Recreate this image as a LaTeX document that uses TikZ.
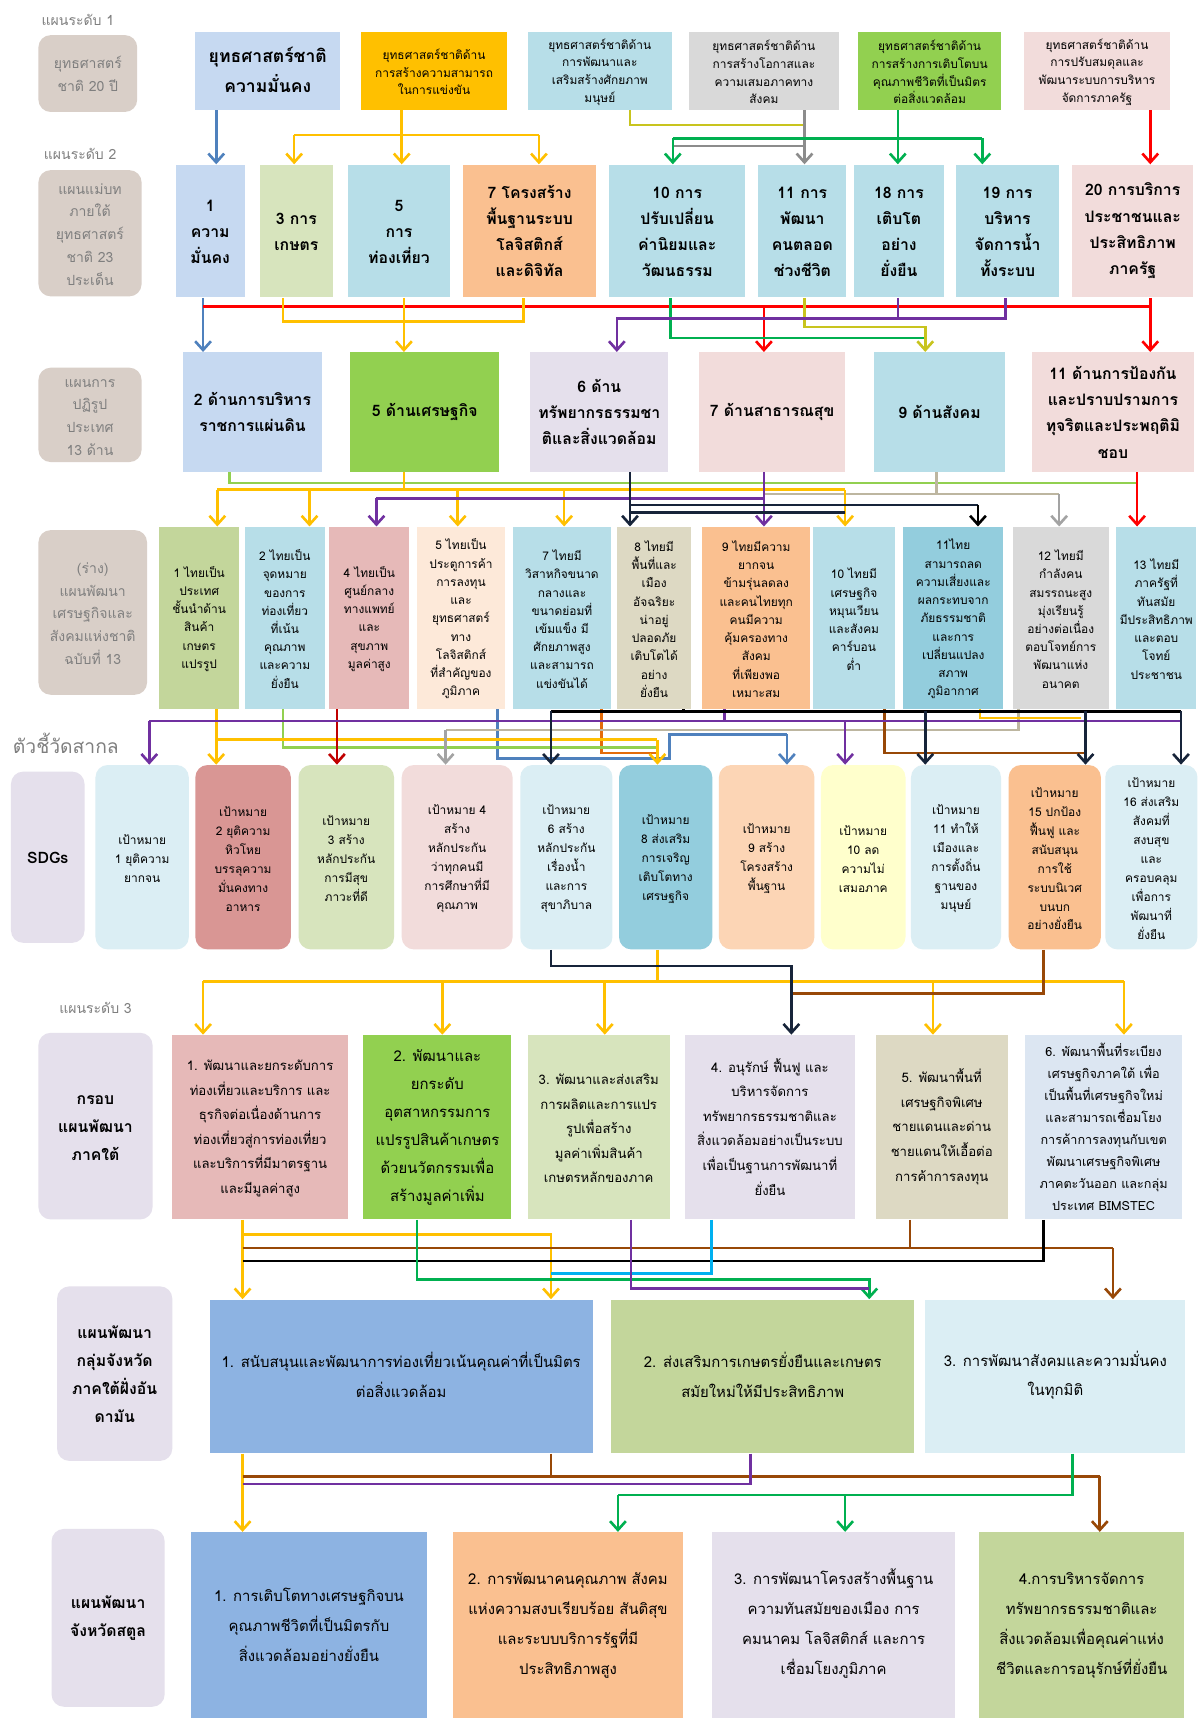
\documentclass[tikz,border=0pt]{standalone}
\usepackage{fontspec}
\setmainfont{Loma}[Script=Thai]
\usetikzlibrary{fit,arrows.meta}
\definecolor{cside}{HTML}{D9CFC8}
\definecolor{csidetxt}{HTML}{7F7F7F}
\definecolor{clav}{HTML}{E5E0EC}
\definecolor{cbluelt}{HTML}{C6D9F1}
\definecolor{cgold}{HTML}{FFC000}
\definecolor{caqua}{HTML}{B7DEE8}
\definecolor{cgraybox}{HTML}{D9D9D9}
\definecolor{cgreen}{HTML}{92D050}
\definecolor{cpink}{HTML}{F2DCDB}
\definecolor{csage}{HTML}{D7E4BD}
\definecolor{corange}{HTML}{FAC090}
\definecolor{colive}{HTML}{C3D69B}
\definecolor{crose}{HTML}{E6B9B8}
\definecolor{cpeach}{HTML}{FDE9D9}
\definecolor{cbeige}{HTML}{DDD9C3}
\definecolor{cteal}{HTML}{93CDDD}
\definecolor{cice}{HTML}{DBEEF4}
\definecolor{cbrick}{HTML}{D99694}
\definecolor{capricot}{HTML}{FCD5B5}
\definecolor{clemon}{HTML}{FFFFCC}
\definecolor{csteel}{HTML}{DCE6F2}
\definecolor{cmid}{HTML}{8DB3E2}
\definecolor{lblue}{HTML}{4F81BD}
\definecolor{lolive}{HTML}{C8C41E}
\definecolor{lgray}{HTML}{8C8C8C}
\definecolor{lgreen}{HTML}{00B050}
\definecolor{lred}{HTML}{FF0000}
\definecolor{ldred}{HTML}{C00000}
\definecolor{lpurple}{HTML}{7030A0}
\definecolor{lnavy}{HTML}{17243A}
\definecolor{ltan}{HTML}{BDB6A0}
\definecolor{lorange}{HTML}{E46C0A}
\definecolor{lbrown}{HTML}{984807}
\definecolor{lcyan}{HTML}{00B0F0}
% empty first row, to sit the Thai text lower in its box
\def\lift{0pt}
\newcommand{\lf}{\\[\lift]}
\tikzset{
  box/.style={inner sep=0pt, align=center, text=black},
  side/.style={box, rounded corners=7pt, fill=cside, text=csidetxt, font={\fontsize{8}{13}\selectfont\def\lift{-5.6pt}}},
  sideb/.style={box, rounded corners=7pt, fill=clav, font={\bfseries\fontsize{9}{16}\selectfont\def\lift{-8.6pt}}},
  lvl/.style={text=csidetxt, font=\fontsize{8}{10}\selectfont},
  top/.style={box, font={\fontsize{6.8}{10}\selectfont\def\lift{-2.6pt}}},
  plan/.style={box, font={\bfseries\fontsize{9}{15}\selectfont\def\lift{-7.6pt}}},
  reform/.style={box, font={\bfseries\fontsize{9}{15}\selectfont\def\lift{-7.6pt}}},
  nesdp/.style={box, font={\fontsize{6.8}{10.4}\selectfont\def\lift{-3pt}}},
  sdg/.style={box, rounded corners=7pt, font={\fontsize{6.8}{10.8}\selectfont\def\lift{-3.4pt}}},
  region/.style={box, font={\fontsize{7.5}{14}\selectfont\def\lift{-6.6pt}}},
  group/.style={box, font={\fontsize{8.5}{17}\selectfont\def\lift{-9.6pt}}},
  wire/.style={line width=1.5pt},
  arr/.style={wire, -{Straight Barb[length=5pt,width=9pt]}}
}
\begin{document}
\begin{tikzpicture}[x=0.022cm, y=-0.022cm]
\useasboundingbox (0,0) rectangle (1093,1568);
\fill[white] (0,0) rectangle (1093,1568);
% level 1
\node[lvl] (lv1) at (71,18) {แผนระดับ 1};
\node[side, fit={(35,32) (125,102)}] (sd1) {\lf ยุทธศาสตร์\\ชาติ 20 ปี};
\node[box, fill=cbluelt, font={\bfseries\fontsize{10}{17}\selectfont\def\lift{-9.6pt}}, fit={(178,29) (310,100)}] (b1) {\lf ยุทธศาสตร์ชาติ\\ความมั่นคง};
\node[top, fill=cgold, fit={(329,29) (462,100)}] (b2) {\lf ยุทธศาสตร์ชาติด้าน\\การสร้างความสามารถ\\ในการแข่งขัน};
\node[top, fill=caqua, fit={(481,29) (612,100)}] (b3) {\lf ยุทธศาสตร์ชาติด้าน\\การพัฒนาและ\\เสริมสร้างศักยภาพ\\มนุษย์};
\node[top, fill=cgraybox, fit={(628,29) (764,100)}] (b4) {\lf ยุทธศาสตร์ชาติด้าน\\การสร้างโอกาสและ\\ความเสมอภาคทาง\\สังคม};
\node[top, fill=cgreen, fit={(782,29) (912,100)}] (b5) {\lf ยุทธศาสตร์ชาติด้าน\\การสร้างการเติบโตบน\\คุณภาพชีวิตที่เป็นมิตร\\ต่อสิ่งแวดล้อม};
\node[top, fill=cpink, fit={(933,29) (1066,100)}] (b6) {\lf ยุทธศาสตร์ชาติด้าน\\การปรับสมดุลและ\\พัฒนาระบบการบริหาร\\จัดการภาครัฐ};
% level 2
\node[lvl] (lv2) at (73,140) {แผนระดับ 2};
\node[side, fit={(35,155) (129,270)}] (sd2) {\lf แผนแม่บท\\ภายใต้\\ยุทธศาสตร์\\ชาติ 23\\ประเด็น};
\node[plan, fill=cbluelt, fit={(160,150) (223,271)}] (l1) {\lf 1\\ความ\\มั่นคง};
\node[plan, fill=csage, fit={(237,150) (303,271)}] (l3) {\lf 3 การ\\เกษตร};
\node[plan, fill=caqua, fit={(317,150) (410,271)}] (l5) {\lf 5\\การ\\ท่องเที่ยว};
\node[plan, fill=corange, fit={(422,150) (543,271)}] (l7) {\lf 7 โครงสร้าง\\พื้นฐานระบบ\\โลจิสติกส์\\และดิจิทัล};
\node[plan, fill=caqua, fit={(555,150) (679,271)}] (l10) {\lf 10 การ\\ปรับเปลี่ยน\\ค่านิยมและ\\วัฒนธรรม};
\node[plan, fill=caqua, fit={(691,150) (771,271)}] (l11) {\lf 11 การ\\พัฒนา\\คนตลอด\\ช่วงชีวิต};
\node[plan, fill=caqua, fit={(778,150) (860,271)}] (l18) {\lf 18 การ\\เติบโต\\อย่าง\\ยั่งยืน};
\node[plan, fill=caqua, fit={(871,150) (965,271)}] (l19) {\lf 19 การ\\บริหาร\\จัดการน้ำ\\ทั้งระบบ};
\node[plan, fill=cpink, fit={(977,150) (1087,271)}] (l20) {\lf 20 การบริการ\\ประชาชนและ\\ประสิทธิภาพ\\ภาครัฐ};
% reform
\node[side, fit={(35,335) (129,421)}] (sd3) {\lf แผนการ\\ปฏิรูป\\ประเทศ\\13 ด้าน};
\node[reform, fill=cbluelt, fit={(167,321) (293,430)}] (r2) {\lf 2 ด้านการบริหาร\\ราชการแผ่นดิน};
\node[reform, fill=cgreen, fit={(319,321) (455,430)}] (r5) {\lf 5 ด้านเศรษฐกิจ};
\node[reform, fill=clav, fit={(483,321) (609,430)}] (r6) {\lf 6 ด้าน\\ทรัพยากรธรรมชา\\ติและสิ่งแวดล้อม};
\node[reform, fill=cpink, fit={(637,321) (770,430)}] (r7) {\lf 7 ด้านสาธารณสุข};
\node[reform, fill=caqua, fit={(796,321) (916,430)}] (r9) {\lf 9 ด้านสังคม};
\node[reform, fill=cpink, fit={(940,321) (1088,430)}] (r11) {\lf 11 ด้านการป้องกัน\\และปราบปรามการ\\ทุจริตและประพฤติมิ\\ชอบ};
% nesdp 13
\node[side, fit={(35,483) (134,633)}] (sd4) {\lf (ร่าง)\\แผนพัฒนา\\เศรษฐกิจและ\\สังคมแห่งชาติ\\ฉบับที่ 13};
\node[nesdp, fill=colive, fit={(145,480) (218,646)}] (n1) {\lf 1 ไทยเป็น\\ประเทศ\\ชั้นนำด้าน\\สินค้า\\เกษตร\\แปรรูป};
\node[nesdp, fill=caqua, fit={(223,480) (296,646)}] (n2) {\lf 2 ไทยเป็น\\จุดหมาย\\ของการ\\ท่องเที่ยว\\ที่เน้น\\คุณภาพ\\และความ\\ยั่งยืน};
\node[nesdp, fill=crose, fit={(300,480) (373,646)}] (n4) {\lf 4 ไทยเป็น\\ศูนย์กลาง\\ทางแพทย์\\และ\\สุขภาพ\\มูลค่าสูง};
\node[nesdp, fill=cpeach, fit={(380,480) (460,646)}] (n5) {\lf 5 ไทยเป็น\\ประตูการค้า\\การลงทุน\\และ\\ยุทธศาสตร์\\ทาง\\โลจิสติกส์\\ที่สำคัญของ\\ภูมิภาค};
\node[nesdp, fill=caqua, fit={(467,480) (557,646)}] (n7) {\lf 7 ไทยมี\\วิสาหกิจขนาด\\กลางและ\\ขนาดย่อมที่\\เข้มแข็ง มี\\ศักยภาพสูง\\และสามารถ\\แข่งขันได้};
\node[nesdp, fill=cbeige, fit={(562,480) (630,646)}] (n8) {\lf 8 ไทยมี\\พื้นที่และ\\เมือง\\อัจฉริยะ\\น่าอยู่\\ปลอดภัย\\เติบโตได้\\อย่าง\\ยั่งยืน};
\node[nesdp, fill=corange, fit={(640,480) (738,646)}] (n9) {\lf 9 ไทยมีความ\\ยากจน\\ข้ามรุ่นลดลง\\และคนไทยทุก\\คนมีความ\\คุ้มครองทาง\\สังคม\\ที่เพียงพอ\\เหมาะสม};
\node[nesdp, fill=caqua, fit={(741,480) (815,646)}] (n10) {\lf 10 ไทยมี\\เศรษฐกิจ\\หมุนเวียน\\และสังคม\\คาร์บอน\\ต่ำ};
\node[nesdp, fill=cteal, fit={(823,480) (914,646)}] (n11) {\lf 11ไทย\\สามารถลด\\ความเสี่ยงและ\\ผลกระทบจาก\\ภัยธรรมชาติ\\และการ\\เปลี่ยนแปลง\\สภาพ\\ภูมิอากาศ};
\node[nesdp, fill=cgraybox, fit={(923,480) (1010,646)}] (n12) {\lf 12 ไทยมี\\กำลังคน\\สมรรถนะสูง\\มุ่งเรียนรู้\\อย่างต่อเนื่อง\\ตอบโจทย์การ\\พัฒนาแห่ง\\อนาคต};
\node[nesdp, fill=caqua, fit={(1017,480) (1090,646)}] (n13) {\lf 13 ไทยมี\\ภาครัฐที่\\ทันสมัย\\มีประสิทธิภาพ\\และตอบ\\โจทย์\\ประชาชน};
% SDGs
\node[text=csidetxt, font=\fontsize{11}{13}\selectfont] (lvs) at (60,677) {ตัวชี้วัดสากล};
\node[sideb, fit={(10,703) (77,859)}] (sds) {\lf SDGs};
\node[sdg, fill=cice, fit={(87,697) (172,865)}] (s1) {\lf เป้าหมาย\\1 ยุติความ\\ยากจน};
\node[sdg, fill=cbrick, fit={(178,697) (265,865)}] (s2) {\lf เป้าหมาย\\2 ยุติความ\\หิวโหย\\บรรลุความ\\มั่นคงทาง\\อาหาร};
\node[sdg, fill=csage, fit={(272,697) (359,865)}] (s3) {\lf เป้าหมาย\\3 สร้าง\\หลักประกัน\\การมีสุข\\ภาวะที่ดี};
\node[sdg, fill=cpink, fit={(366,697) (467,865)}] (s4) {\lf เป้าหมาย 4\\สร้าง\\หลักประกัน\\ว่าทุกคนมี\\การศึกษาที่มี\\คุณภาพ};
\node[sdg, fill=cice, fit={(474,697) (558,865)}] (s6) {\lf เป้าหมาย\\6 สร้าง\\หลักประกัน\\เรื่องน้ำ\\และการ\\สุขาภิบาล};
\node[sdg, fill=cteal, fit={(564,697) (649,865)}] (s8) {\lf เป้าหมาย\\8 ส่งเสริม\\การเจริญ\\เติบโตทาง\\เศรษฐกิจ};
\node[sdg, fill=capricot, fit={(655,697) (742,865)}] (s9) {\lf เป้าหมาย\\9 สร้าง\\โครงสร้าง\\พื้นฐาน};
\node[sdg, fill=clemon, fit={(748,697) (825,865)}] (s10) {\lf เป้าหมาย\\10 ลด\\ความไม่\\เสมอภาค};
\node[sdg, fill=cice, fit={(830,697) (912,865)}] (s11) {\lf เป้าหมาย\\11 ทำให้\\เมืองและ\\การตั้งถิ่น\\ฐานของ\\มนุษย์};
\node[sdg, fill=corange, fit={(919,697) (1003,865)}] (s15) {\lf เป้าหมาย\\15 ปกป้อง\\ฟื้นฟู และ\\สนับสนุน\\การใช้\\ระบบนิเวศ\\บนบก\\อย่างยั่งยืน};
\node[sdg, fill=cice, fit={(1007,697) (1091,865)}] (s16) {\lf เป้าหมาย\\16 ส่งเสริม\\สังคมที่\\สงบสุข\\และ\\ครอบคลุม\\เพื่อการ\\พัฒนาที่\\ยั่งยืน};
% level 3
\node[lvl] (lv3) at (87,918) {แผนระดับ 3};
\node[sideb, fit={(35,941) (139,1111)}] (sd6) {\lf กรอบ\\แผนพัฒนา\\ภาคใต้};
\node[region, fill=crose, fit={(157,943) (317,1111)}] (t1) {\lf 1. พัฒนาและยกระดับการ\\ท่องเที่ยวและบริการ และ\\ธุรกิจต่อเนื่องด้านการ\\ท่องเที่ยวสู่การท่องเที่ยว\\และบริการที่มีมาตรฐาน\\และมีมูลค่าสูง};
\node[region, fill=cgreen, font={\fontsize{8.5}{16}\selectfont\def\lift{-8.6pt}}, fit={(331,943) (466,1111)}] (t2) {\lf 2. พัฒนาและ\\ยกระดับ\\อุตสาหกรรมการ\\แปรรูปสินค้าเกษตร\\ด้วยนวัตกรรมเพื่อ\\สร้างมูลค่าเพิ่ม};
\node[region, fill=csage, fit={(481,943) (610,1111)}] (t3) {\lf 3. พัฒนาและส่งเสริม\\การผลิตและการแปร\\รูปเพื่อสร้าง\\มูลค่าเพิ่มสินค้า\\เกษตรหลักของภาค};
\node[region, fill=clav, fit={(624,943) (779,1111)}] (t4) {\lf 4. อนุรักษ์ ฟื้นฟู และ\\บริหารจัดการ\\ทรัพยากรธรรมชาติและ\\สิ่งแวดล้อมอย่างเป็นระบบ\\เพื่อเป็นฐานการพัฒนาที่\\ยั่งยืน};
\node[region, fill=cbeige, fit={(798,943) (918,1111)}] (t5) {\lf 5. พัฒนาพื้นที่\\เศรษฐกิจพิเศษ\\ชายแดนและด่าน\\ชายแดนให้เอื้อต่อ\\การค้าการลงทุน};
\node[region, fill=csteel, font={\fontsize{7.2}{12.5}\selectfont\def\lift{-5.1pt}}, fit={(934,943) (1077,1111)}] (t6) {\lf 6. พัฒนาพื้นที่ระเบียง\\เศรษฐกิจภาคใต้ เพื่อ\\เป็นพื้นที่เศรษฐกิจใหม่\\และสามารถเชื่อมโยง\\การค้าการลงทุนกับเขต\\พัฒนาเศรษฐกิจพิเศษ\\ภาคตะวันออก และกลุ่ม\\ประเทศ BIMSTEC};
% group of provinces
\node[sideb, fit={(52,1172) (157,1331)}] (sd7) {\lf แผนพัฒนา\\กลุ่มจังหวัด\\ภาคใต้ฝั่งอัน\\ดามัน};
\node[group, fill=cmid, fit={(191,1184) (540,1324)}] (g1) {\lf 1. สนับสนุนและพัฒนาการท่องเที่ยวเน้นคุณค่าที่เป็นมิตร\\ต่อสิ่งแวดล้อม};
\node[group, fill=colive, fit={(557,1184) (833,1324)}] (g2) {\lf 2. ส่งเสริมการเกษตรยั่งยืนและเกษตร\\สมัยใหม่ให้มีประสิทธิภาพ};
\node[group, fill=cice, fit={(843,1184) (1080,1324)}] (g3) {\lf 3. การพัฒนาสังคมและความมั่นคง\\ในทุกมิติ};
% province
\node[sideb, fit={(47,1393) (150,1555)}] (sd8) {\lf แผนพัฒนา\\จังหวัดสตูล};
\node[group, fill=cmid, fit={(174,1396) (389,1565)}] (p1) {\lf 1. การเติบโตทางเศรษฐกิจบน\\คุณภาพชีวิตที่เป็นมิตรกับ\\สิ่งแวดล้อมอย่างยั่งยืน};
\node[group, fill=corange, fit={(413,1396) (622,1565)}] (p2) {\lf 2. การพัฒนาคนคุณภาพ สังคม\\แห่งความสงบเรียบร้อย สันติสุข\\และระบบบริการรัฐที่มี\\ประสิทธิภาพสูง};
\node[group, fill=clav, fit={(649,1396) (870,1565)}] (p3) {\lf 3. การพัฒนาโครงสร้างพื้นฐาน\\ความทันสมัยของเมือง การ\\คมนาคม โลจิสติกส์ และการ\\เชื่อมโยงภูมิภาค};
\node[group, fill=colive, fit={(892,1396) (1079,1565)}] (p4) {\lf 4.การบริหารจัดการ\\ทรัพยากรธรรมชาติและ\\สิ่งแวดล้อมเพื่อคุณค่าแห่ง\\ชีวิตและการอนุรักษ์ที่ยั่งยืน};
% level 1 -> level 2
\draw[arr, lblue] (b1.south -| 197,0) -- (l1.north -| 197,0);
\draw[wire, cgold] (b2.south -| 366,0) -- (366,123) (268,123) -- (491,123);
\foreach \x/\n in {268/l3,366/l5,491/l7}{\draw[arr, cgold] (\x,123) -- (\n.north -| \x,0);}
\draw[wire, lolive] (b3.south -| 574,0) |- (733,114);
\draw[wire, lgray] (613,133) -- (733,133);
\draw[arr, lgray] (b4.south -| 733,0) -- (l11.north -| 733,0);
\draw[wire, lgreen] (b5.south -| 818,0) -- (818,126) (613,126) -- (895,126);
\foreach \x/\n in {613/l10,818/l18,895/l19}{\draw[arr, lgreen] (\x,126) -- (\n.north -| \x,0);}
\draw[arr, lred] (b6.south -| 1048,0) -- (l20.north -| 1048,0);
% level 2 -> reform
\draw[arr, lblue] (l1.south -| 185,0) -- (r2.north -| 185,0);
\draw[wire, lred] (185,279) -- (1048,279);
\draw[arr, lred] (l20.south -| 1048,0) -- (r11.north -| 1048,0);
\draw[arr, lred] (696,279) -- (r7.north -| 696,0);
\draw[wire, cgold] (l3.south -| 258,0) |- (477,293) -- (l7.south -| 477,0);
\draw[arr, cgold] (l5.south -| 368,0) -- (r5.north -| 368,0);
\draw[wire, lgreen] (l10.south -| 611,0) |- (843,308);
\draw[arr, lolive] (l11.south -| 733,0) |- (843,298) -- (r9.north -| 843,0);
\draw[wire, lpurple] (l18.south -| 818,0) -- (818,290);
\draw[arr, lpurple] (l19.south -| 916,0) |- (562,290) -- (r6.north -| 562,0);
% reform -> nesdp 13
\draw[wire, cgreen] (r2.south -| 209,0) |- (1036,440);
\draw[arr, lred] (r11.south -| 1036,0) -- (n13.north -| 1036,0);
\draw[wire, ltan] (r9.south -| 853,0) -- (853,450) (696,450) -- (965,450);
\draw[arr, lgray!80] (965,450) -- (n12.north -| 965,0);
\draw[wire, cgold] (r5.south -| 368,0) -- (368,446) (198,446) -- (770,446);
\foreach \x/\n in {198/n1,282/n2,417/n5,514/n7,770/n10}{\draw[arr, cgold] (\x,446) -- (\n.north -| \x,0);}
\draw[wire, lpurple] (343,454) -- (696,454);
\draw[arr, lpurple] (343,454) -- (n4.north -| 343,0);
\draw[arr, lpurple] (r7.south -| 696,0) -- (n9.north -| 696,0);
\draw[wire, lnavy] (574,460) -- (891,460) (574,467) -- (770,467);
\draw[arr, lnavy] (r6.south -| 574,0) -- (n8.north -| 574,0);
\draw[arr, black] (891,460) -- (n11.north -| 891,0);
% nesdp 13 -> SDGs
\draw[wire, lorange] (n7.south -| 548,0) |- (599,686);
\draw[wire, lblue] (n5.south -| 453,0) |- (610,691) -- (610,669) -- (717,669);
\draw[arr, lblue] (717,669) -- (s9.north -| 717,0);
\draw[wire, cgreen] (n2.south -| 258,0) |- (599,681);
\draw[arr, cgold] (n1.south -| 197,0) -- (s2.north -| 197,0);
\draw[wire, cgold] (197,674) -- (599,674);
\draw[arr, cgold] (599,674) -- (s8.north -| 599,0);
\draw[arr, ldred] (n4.south -| 307,0) -- (s3.north -| 307,0);
\draw[wire, ltan] (n12.south -| 928,0) |- (406,665);
\draw[arr, lgray!80] (406,665) -- (s4.north -| 406,0);
\draw[wire, lbrown] (n10.south -| 806,0) |- (989,686);
\draw[wire, cgold] (n11.south -| 893,0) |- (985,654);
\draw[wire, lpurple] (n9.south -| 660,0) -- (660,657) (136,657) -- (1076,657);
\foreach \x/\n in {136/s1,770/s10}{\draw[arr, lpurple] (\x,657) -- (\n.north -| \x,0);}
\draw[wire, black] (n8.south -| 623,0) -- (623,648) (502,648) -- (1076,648);
\foreach \x/\n in {502/s6,843/s11,989/s15,1076/s16}{\draw[arr, lnavy] (\x,648) -- (\n.north -| \x,0);}
% SDGs -> level 3
\draw[wire, cgold] (s8.south -| 599,0) -- (599,894) (185,894) -- (1024,894);
\foreach \x/\n in {185/t1,403/t2,551/t3,850/t5,1024/t6}{\draw[arr, cgold] (\x,894) -- (\n.north -| \x,0);}
\draw[wire, lbrown] (s15.south -| 951,0) |- (721,905);
\draw[arr, lnavy] (s6.south -| 502,0) |- (721,880) -- (t4.north -| 721,0);
% level 3 -> group
\draw[arr, cgold] (t1.south -| 221,0) -- (g1.north -| 221,0);
\draw[arr, cgold] (221,1125) -| (g1.north -| 502,0);
\draw[wire, lbrown] (t5.south -| 829,0) -- (829,1137) (221,1137) -- (1014,1137);
\draw[arr, lbrown] (1014,1137) -- (g3.north -| 1014,0);
\draw[wire, black] (t6.south -| 951,0) |- (221,1149);
\draw[wire, lcyan] (t4.south -| 648,0) |- (502,1160);
\draw[arr, lgreen] (t2.south -| 380,0) |- (792,1166) -- (g2.north -| 792,0);
\draw[wire, lpurple] (t3.south -| 575,0) |- (792,1174);
% group -> province
\draw[arr, cgold] (g1.south -| 221,0) -- (p1.north -| 221,0);
\draw[wire, lbrown] (g1.south -| 502,0) -- (502,1345) (221,1345) -- (1002,1345);
\draw[arr, lbrown] (1002,1345) -- (p4.north -| 1002,0);
\draw[wire, lpurple] (g2.south -| 684,0) |- (221,1352);
\draw[wire, lgreen] (g3.south -| 977,0) |- (563,1362);
\foreach \x/\n in {563/p2,770/p3}{\draw[arr, lgreen] (\x,1362) -- (\n.north -| \x,0);}
\end{tikzpicture}
\end{document}
